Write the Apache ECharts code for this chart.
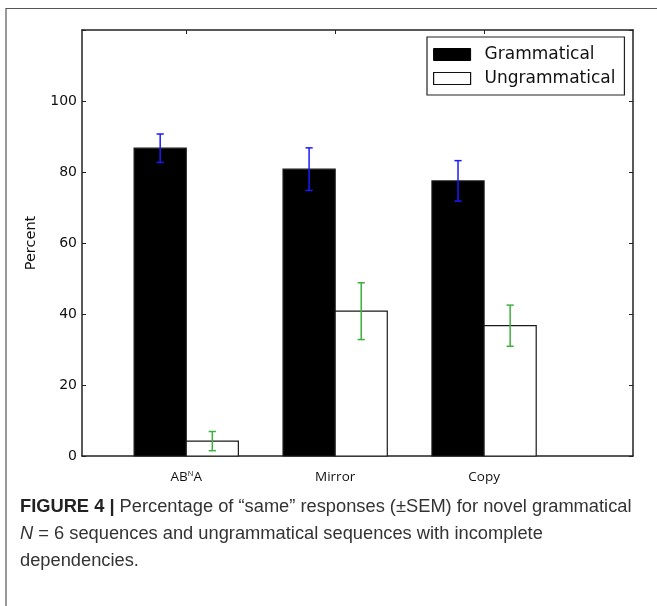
<!DOCTYPE html>
<html>
<head>
<meta charset="utf-8">
<script src="https://cdn.jsdelivr.net/npm/echarts@6/dist/echarts.min.js"></script>
<style>
  html, body { margin: 0; padding: 0; background: #fff; }
  #chart { width: 657px; height: 606px; }
</style>
</head>
<body>
<div id="chart"></div>
<script>
// ---- data ----
const categories = ['AB{sup|N}A', 'Mirror', 'Copy'];
const seriesNames = ['Grammatical', 'Ungrammatical'];
const grammatical = [86.7, 80.8, 77.5];
const grammaticalErr = [4.0, 6.0, 5.7];
const ungrammatical = [4.2, 40.8, 36.7];
const ungrammaticalErr = [2.7, 8.0, 5.8];
const yTicks = [0, 20, 40, 60, 80, 100];
const captionLines = [
  '{b|FIGURE 4 |} Percentage of \u201csame\u201d responses (\u00b1SEM) for novel grammatical',
  '{i|N} = 6 sequences and ungrammatical sequences with incomplete',
  'dependencies.'
];

// ---- layout / style ----
const BAR_W = 0.35;
const tickPos = categories.map((c, i) => i + BAR_W);
const axisColor = '#222';
const CAP_FS = 18.3;

function barItem(offset, fill) {
  return function (params, api) {
    const i = api.value(0), v = api.value(1);
    const p0 = api.coord([i + offset, 0]);
    const p1 = api.coord([i + offset + BAR_W, v]);
    return {
      type: 'rect',
      shape: { x: p0[0], y: p1[1], width: p1[0] - p0[0], height: p0[1] - p1[1] },
      style: { fill: fill, stroke: '#1a1a1a', lineWidth: 1.2 }
    };
  };
}
function errItem(offset, color) {
  return function (params, api) {
    const i = api.value(0), v = api.value(1), e = api.value(2);
    const x = i + offset + BAR_W / 2;
    const top = api.coord([x, v + e]);
    const bot = api.coord([x, v - e]);
    const cw = 3.6;
    const st = { stroke: color, lineWidth: 1.5 };
    return {
      type: 'group',
      children: [
        { type: 'line', shape: { x1: top[0], y1: top[1], x2: bot[0], y2: bot[1] }, style: st },
        { type: 'line', shape: { x1: top[0] - cw, y1: top[1], x2: top[0] + cw, y2: top[1] }, style: st },
        { type: 'line', shape: { x1: bot[0] - cw, y1: bot[1], x2: bot[0] + cw, y2: bot[1] }, style: st }
      ]
    };
  };
}

const chart = echarts.init(document.getElementById('chart'), null, { renderer: 'canvas' });

const commonX = { type: 'value', min: -0.35, max: 3.35, splitLine: { show: false } };
const commonY = { type: 'value', min: 0, max: 120, interval: 20, splitLine: { show: false } };

const option = {
  animation: false,
  backgroundColor: '#fff',
  grid: { left: 82, top: 30, right: 24, bottom: 150 },
  xAxis: [
    Object.assign({}, commonX, {
      position: 'bottom',
      axisLine: { show: true, onZero: false, lineStyle: { color: axisColor, width: 1.5 } },
      axisTick: { show: true, inside: true, length: 4, customValues: tickPos, lineStyle: { color: axisColor } },
      axisLabel: {
        show: true, customValues: tickPos, margin: 14,
        fontFamily: 'Open Sans', fontSize: 13.5, color: '#111',
        formatter: function (v) { return categories[Math.round(v - BAR_W)] || ''; },
        rich: { sup: { fontSize: 7.5, verticalAlign: 'top', padding: [0, 0, 6, 0], fontFamily: 'Open Sans', color: '#111' } }
      }
    }),
    Object.assign({}, commonX, {
      position: 'top',
      axisLine: { show: true, onZero: false, lineStyle: { color: axisColor, width: 1.5 } },
      axisTick: { show: true, inside: true, length: 4, customValues: tickPos, lineStyle: { color: axisColor } },
      axisLabel: { show: false }
    })
  ],
  yAxis: [
    Object.assign({}, commonY, {
      position: 'left',
      name: 'Percent', nameLocation: 'middle', nameGap: 43,
      nameTextStyle: { fontFamily: 'DejaVu Sans', fontSize: 14.5, color: '#111' },
      axisLine: { show: true, onZero: false, lineStyle: { color: axisColor, width: 1.5 } },
      axisTick: { show: true, inside: true, length: 4, lineStyle: { color: axisColor } },
      axisLabel: {
        margin: 5, fontFamily: 'DejaVu Sans', fontSize: 14, color: '#111',
        formatter: function (v) { return yTicks.indexOf(v) >= 0 ? String(v) : ''; }
      }
    }),
    Object.assign({}, commonY, {
      position: 'right',
      axisLine: { show: true, onZero: false, lineStyle: { color: axisColor, width: 1.5 } },
      axisTick: { show: true, inside: true, length: 4, lineStyle: { color: axisColor } },
      axisLabel: { show: false }
    })
  ],
  legend: {
    orient: 'vertical',
    left: 427, top: 37,
    padding: [9, 9, 8, 6],
    itemGap: 7,
    itemWidth: 37, itemHeight: 12,
    borderColor: '#222', borderWidth: 1.2, borderRadius: 0,
    textStyle: { fontFamily: 'DejaVu Sans', fontSize: 17, color: '#111', padding: [0, 0, 0, 9] },
    data: [
      { name: seriesNames[0], icon: 'rect', itemStyle: { color: '#000', borderColor: '#000', borderWidth: 1 } },
      { name: seriesNames[1], icon: 'rect', itemStyle: { color: '#fff', borderColor: '#111', borderWidth: 1.2 } }
    ]
  },
  graphic: [
    { type: 'rect', silent: true, z: -1, shape: { x: 6, y: 8.5, width: 700, height: 700 },
      style: { fill: null, stroke: '#555', lineWidth: 1.2 } },
    {
      type: 'group', left: 20, top: 498,
      children: captionLines.map(function (t, k) {
        return {
          type: 'text', x: 0, y: k * 27,
          style: {
            text: t,
            fontFamily: 'Liberation Sans', fontSize: CAP_FS, fill: '#333',
            rich: {
              b: { fontWeight: 'bold', fontFamily: 'Liberation Sans', fontSize: CAP_FS, fill: '#222' },
              i: { fontStyle: 'italic', fontFamily: 'Liberation Sans', fontSize: CAP_FS, fill: '#333' }
            }
          }
        };
      })
    }
  ],
  series: [
    {
      name: seriesNames[0], type: 'custom', xAxisIndex: 0, yAxisIndex: 0,
      itemStyle: { color: '#000' },
      renderItem: barItem(0, '#000'),
      data: categories.map((c, i) => [i, grammatical[i]])
    },
    {
      name: seriesNames[1], type: 'custom', xAxisIndex: 0, yAxisIndex: 0,
      itemStyle: { color: '#fff', borderColor: '#111' },
      renderItem: barItem(BAR_W, '#fff'),
      data: categories.map((c, i) => [i, ungrammatical[i]])
    },
    {
      name: 'errG', type: 'custom', xAxisIndex: 0, yAxisIndex: 0, z: 5,
      renderItem: errItem(0, '#1a1aff'),
      data: categories.map((c, i) => [i, grammatical[i], grammaticalErr[i]])
    },
    {
      name: 'errU', type: 'custom', xAxisIndex: 0, yAxisIndex: 0, z: 5,
      renderItem: errItem(BAR_W, '#3cb03c'),
      data: categories.map((c, i) => [i, ungrammatical[i], ungrammaticalErr[i]])
    }
  ]
};
chart.setOption(option);
</script>
</body>
</html>
